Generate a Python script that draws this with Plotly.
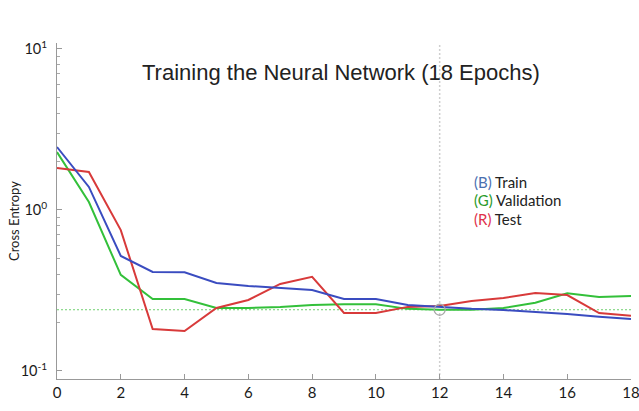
import plotly.graph_objects as go

# Cross-entropy per epoch
epochs = list(range(19))
train = [2.46, 1.39, 0.518, 0.412, 0.41, 0.352, 0.337, 0.328, 0.318, 0.28, 0.28,
         0.257, 0.25, 0.243, 0.239, 0.233, 0.226, 0.217, 0.21]
validation = [2.29, 1.12, 0.395, 0.28, 0.28, 0.246, 0.246, 0.25, 0.257, 0.26, 0.26,
              0.243, 0.24, 0.24, 0.246, 0.265, 0.304, 0.288, 0.292]
test = [1.82, 1.72, 0.75, 0.182, 0.177, 0.246, 0.276, 0.347, 0.384, 0.229, 0.229,
        0.25, 0.253, 0.272, 0.284, 0.305, 0.296, 0.229, 0.22]

best_epoch = 12
best_value = validation[best_epoch]

x_ticks = [0, 2, 4, 6, 8, 10, 12, 14, 16, 18]
y_ticks = [0.1, 1, 10]
y_tick_text = ["10<sup>-1</sup>", "10<sup>0</sup>", "10<sup>1</sup>"]
minor_y = [k * 10 ** e for e in (-1, 0) for k in range(2, 10)]

BLUE = "#3a4cc0"
GREEN = "#33c03a"
RED = "#d83a3a"

fig = go.Figure()

# best-epoch guides
fig.add_trace(go.Scatter(x=[epochs[0], epochs[-1]], y=[best_value, best_value],
                         mode="lines", line=dict(color="#6fd06f", width=1, dash="2px,2px"),
                         hoverinfo="skip", showlegend=False))
fig.add_trace(go.Scatter(x=[best_epoch, best_epoch], y=[0.089, 10.9],
                         mode="lines", line=dict(color="#cfcfcf", width=1.5, dash="2px,2px"),
                         hoverinfo="skip", showlegend=False))

fig.add_trace(go.Scatter(x=epochs, y=validation, mode="lines", name="Validation",
                         line=dict(color=GREEN, width=2)))
fig.add_trace(go.Scatter(x=epochs, y=test, mode="lines", name="Test",
                         line=dict(color=RED, width=2)))
fig.add_trace(go.Scatter(x=epochs, y=train, mode="lines", name="Train",
                         line=dict(color=BLUE, width=2)))

fig.add_trace(go.Scatter(x=[best_epoch], y=[best_value], mode="markers",
                         marker=dict(symbol="circle-open", size=11, color="#a8a8a8",
                                     line=dict(color="#a8a8a8", width=1.3)),
                         hoverinfo="skip", showlegend=False))

x_font = dict(family="Lato, Open Sans, sans-serif", size=15, color="#1a1a1a")
y_font = dict(family="Lato, Open Sans, sans-serif", size=14.5, color="#1a1a1a")

fig.update_xaxes(range=[0, 18], tickvals=x_ticks, ticks="inside", ticklen=5,
                 tickcolor="#999", showline=True, linecolor="#999", linewidth=1,
                 showgrid=False, zeroline=False, tickfont=x_font,
                 ticklabeloverflow="allow", automargin=False)
fig.update_yaxes(type="log", range=[-1.05, 1.037], tickvals=y_ticks, ticktext=y_tick_text,
                 ticks="inside", ticklen=5, tickcolor="#999",
                 minor=dict(tickvals=minor_y, ticks="inside", ticklen=3, tickcolor="#aaa"),
                 showline=True, linecolor="#999", linewidth=1, showgrid=False,
                 zeroline=False, tickfont=y_font, ticklabelstandoff=6, automargin=False)

annotations = [
    dict(text="Training the Neural Network (18 Epochs)", x=341, y=72,
         font=dict(family="Liberation Sans, Arial, sans-serif", size=22, color="#222")),
    dict(text="Cross Entropy", x=14, y=221, textangle=-90,
         font=dict(family="Lato, Open Sans, sans-serif", size=13, color="#222")),
]
legend_rows = [("(B)", "#4a6fb0", "Train", 182),
               ("(G)", "#2a9a2a", "Validation", 200),
               ("(R)", "#e0304a", "Test", 219)]
for tag, col, label, ypx in legend_rows:
    annotations.append(dict(text=f'<span style="color:{col}">{tag}</span> {label}',
                            x=472, y=ypx, xanchor="left",
                            font=dict(family="Lato, Open Sans, sans-serif", size=15,
                                      color="#222")))

W, H = 639, 411
plot_l, plot_r, plot_t, plot_b = 57, W - 8, 43, H - 32

# place annotations from page pixel positions, relative to the plot area
for a in annotations:
    a["x"] = (a["x"] - plot_l) / (plot_r - plot_l)
    a["y"] = (plot_b - a["y"]) / (plot_b - plot_t)
    a.setdefault("xanchor", "center")
    a.update(xref="paper", yref="paper", yanchor="middle", showarrow=False)

fig.update_layout(
    width=W, height=H,
    margin=dict(l=plot_l, r=W - plot_r, t=plot_t, b=H - plot_b),
    paper_bgcolor="white", plot_bgcolor="white",
    showlegend=False,
    annotations=annotations,
)

fig.write_html("out.html")
